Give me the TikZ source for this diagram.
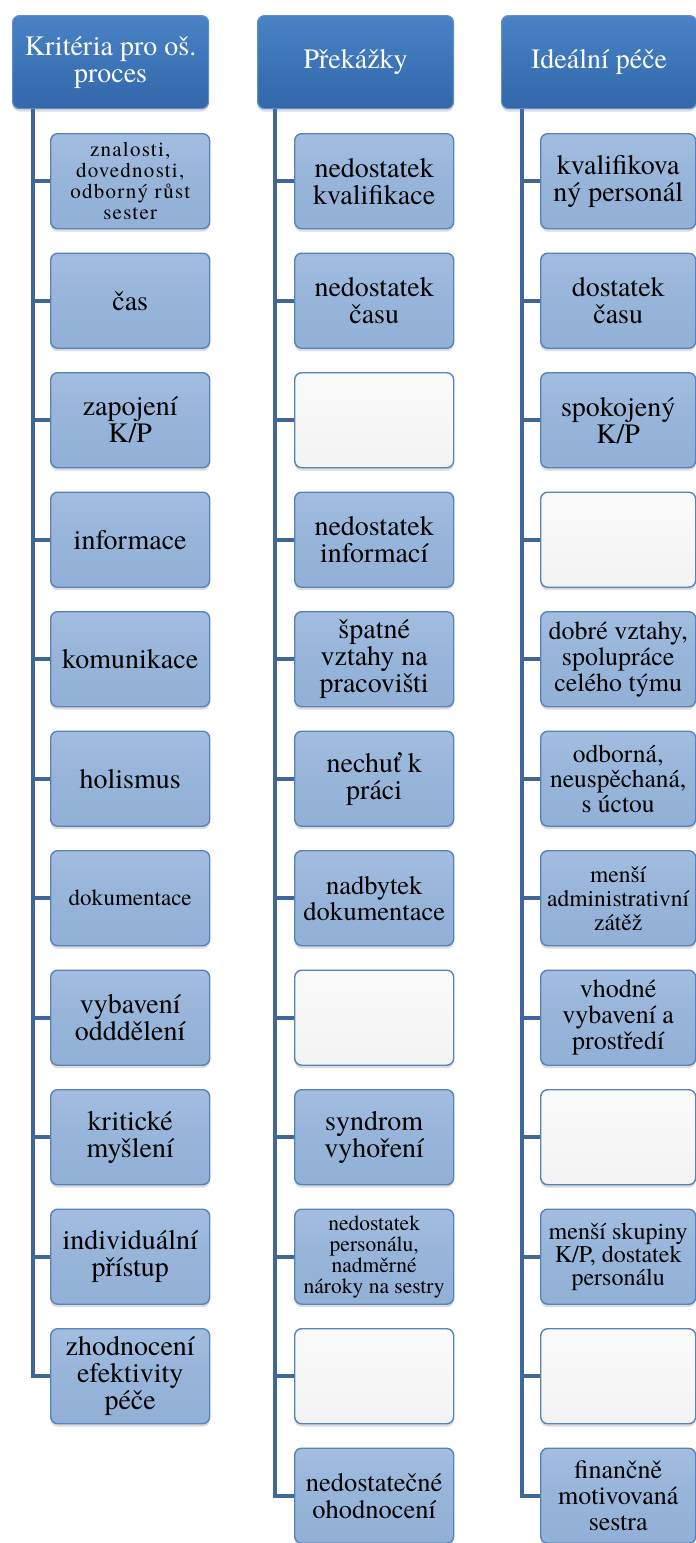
\documentclass[tikz,border=0pt]{standalone}
\usepackage{fontspec}
\IfFontExistsTF{texgyretermes-regular.otf}
  {\newfontfamily\boxserif{texgyretermes}[Extension=.otf, UprightFont=*-regular,
     BoldFont=*-bold, ItalicFont=*-italic, BoldItalicFont=*-bolditalic]
   \newfontfamily\boxserifwide{texgyretermes}[Extension=.otf, UprightFont=*-regular,
     LetterSpace=6]}
  {\newfontfamily\boxserif{Latin Modern Roman}
   \newfontfamily\boxserifwide{Latin Modern Roman}}
\usetikzlibrary{shadows}

\definecolor{hdrtop}{HTML}{5089CC}
\definecolor{hdrmid}{HTML}{3A72B5}
\definecolor{hdrbot}{HTML}{2B5B99}
\definecolor{hdredge}{HTML}{5B8FCF}
\definecolor{kidtop}{HTML}{A9C3E3}
\definecolor{kidmid}{HTML}{97B4D9}
\definecolor{kidbot}{HTML}{8EABD3}
\definecolor{kidedge}{HTML}{5584BD}
\definecolor{blanktop}{HTML}{FCFCFC}
\definecolor{blankbot}{HTML}{EFEFEF}
\definecolor{connclr}{HTML}{3F679A}

\pgfdeclareverticalshading{hdrfill}{100bp}{color(0bp)=(hdrbot); color(45bp)=(hdrmid); color(88bp)=(hdrtop); color(100bp)=(hdrtop)}
\pgfdeclareverticalshading{kidfill}{100bp}{color(0bp)=(kidbot); color(50bp)=(kidmid); color(90bp)=(kidtop); color(100bp)=(kidtop)}
\pgfdeclareverticalshading{blankfill}{100bp}{color(0bp)=(blankbot); color(85bp)=(blanktop); color(100bp)=(blanktop)}

\newcommand\fsz[2]{\boxserif\fontsize{#1}{#2}\selectfont}
\newcommand\fszw[2]{\boxserifwide\fontsize{#1}{#2}\selectfont}

\begin{document}
\begin{tikzpicture}[x=1pt,y=-1pt,
  softshadow/.style={drop shadow={shadow xshift=0pt,shadow yshift=-3pt,opacity=.28}},
  header/.style={rounded corners=7pt, draw=hdredge, line width=1.2pt, shading=hdrfill,
    text=white, font=\fsz{28}{27}, align=center, minimum height=93pt,
    anchor=north west, inner sep=1pt, softshadow},
  kid/.style={rounded corners=7pt, draw=kidedge, line width=1.4pt, shading=kidfill,
    text=black, font=\fsz{28}{27}, align=center, minimum height=95pt,
    minimum width=159pt, anchor=north west, inner sep=1pt, softshadow},
  kidR/.style={kid, minimum width=155pt},
  blank/.style={kid, shading=blankfill},
  blankR/.style={blank, minimum width=155pt},
  conn/.style={draw=connclr, line width=4pt}]

\useasboundingbox (0,0) rectangle (696,1543);
\clip (0,0) rectangle (696,1543);

% trunk positions of the three columns
\coordinate (t1) at (33,0);
\coordinate (t2) at (275,0);
\coordinate (t3) at (522,0);

% ---------- column headers ----------
\node[header, minimum width=196pt] (h1) at (12,15) {Kritéria pro oš.\\proces};
\node[header, minimum width=196pt] (h2) at (257,15) {Překážky};
\node[header, minimum width=195pt] (h3) at (501,15) {Ideální péče};

% ---------- column 1: criteria ----------
\node[kid, font=\fszw{21}{21}] (a1) at (50,133) {znalosti,\\dovednosti,\\odborný růst\\sester};
\node[kid] (a2) at (50,252.5) {čas};
\node[kid] (a3) at (50,372) {zapojení\\K/P};
\node[kid] (a4) at (50,491.5) {informace};
\node[kid] (a5) at (50,611) {komunikace};
\node[kid] (a6) at (50,730.5) {holismus};
\node[kid, font=\fsz{23}{23}] (a7) at (50,850) {dokumentace};
\node[kid] (a8) at (50,969.5) {vybavení\\odddělení};
\node[kid] (a9) at (50,1089) {kritické\\myšlení};
\node[kid] (a10) at (50,1208.5) {individuální\\přístup};
\node[kid] (a11) at (50,1328) {zhodnocení\\efektivity\\péče};

% ---------- column 2: obstacles ----------
\node[kid] (b1) at (294,133) {nedostatek\\kvalifikace};
\node[kid] (b2) at (294,252.5) {nedostatek\\času};
\node[blank] (b3) at (294,372) {};
\node[kid] (b4) at (294,491.5) {nedostatek\\informací};
\node[kid] (b5) at (294,611) {špatné\\vztahy na\\pracovišti};
\node[kid] (b6) at (294,730.5) {nechuť k\\práci};
\node[kid, font=\fsz{26.5}{26}] (b7) at (294,850) {nadbytek\\dokumentace};
\node[blank] (b8) at (294,969.5) {};
\node[kid] (b9) at (294,1089) {syndrom\\vyhoření};
\node[kid, font=\fsz{21.5}{21}] (b10) at (294,1208.5) {nedostatek\\personálu,\\nadměrné\\nároky na sestry};
\node[blank] (b11) at (294,1328) {};
\node[kid, font=\fsz{26.5}{27}] (b12) at (294,1447.5) {nedostatečné\\ohodnocení};

% ---------- column 3: ideal care ----------
\node[kidR] (c1) at (540,133) {kvalifikova\\ný personál};
\node[kidR] (c2) at (540,252.5) {dostatek\\času};
\node[kidR] (c3) at (540,372) {spokojený\\K/P};
\node[blankR] (c4) at (540,491.5) {};
\node[kidR, font=\fsz{26}{26}] (c5) at (540,611) {dobré vztahy,\\spolupráce\\celého týmu};
\node[kidR, font=\fsz{25.5}{25}] (c6) at (540,730.5) {odborná,\\neuspěchaná,\\s úctou};
\node[kidR, font=\fsz{23.5}{24}] (c7) at (540,850) {menší\\administrativní\\zátěž};
\node[kidR, font=\fsz{26}{26}] (c8) at (540,969.5) {vhodné\\vybavení a\\prostředí};
\node[blankR] (c9) at (540,1089) {};
\node[kidR, font=\fsz{24}{23}] (c10) at (540,1208.5) {menší skupiny\\K/P, dostatek\\personálu};
\node[blankR] (c11) at (540,1328) {};
\node[kidR, font=\fsz{26}{26}] (c12) at (540,1447.5) {finančně\\motivovaná\\sestra};

% ---------- connectors ----------
\draw[conn] (t1 |- h1.south) -- (t1 |- a11.west) -- (a11.west);
\foreach \n in {a1,a2,a3,a4,a5,a6,a7,a8,a9,a10}
  \draw[conn] (t1 |- \n.west) -- (\n.west);

\draw[conn] (t2 |- h2.south) -- (t2 |- b12.west) -- (b12.west);
\foreach \n in {b1,b2,b3,b4,b5,b6,b7,b8,b9,b10,b11}
  \draw[conn] (t2 |- \n.west) -- (\n.west);

\draw[conn] (t3 |- h3.south) -- (t3 |- c12.west) -- (c12.west);
\foreach \n in {c1,c2,c3,c4,c5,c6,c7,c8,c9,c10,c11}
  \draw[conn] (t3 |- \n.west) -- (\n.west);

\end{tikzpicture}
\end{document}
